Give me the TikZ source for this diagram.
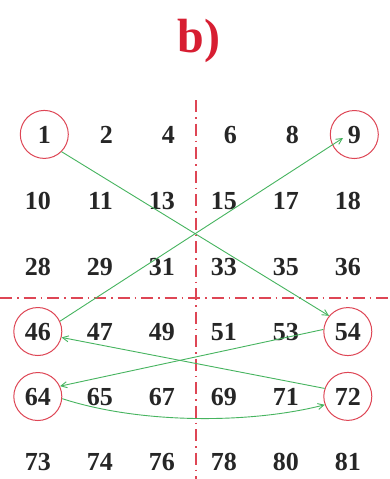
\documentclass[tikz,border=0pt]{standalone}
\usepackage{fontspec}
\setmainfont{Liberation Serif}
\usetikzlibrary{arrows.meta}
\definecolor{tred}{RGB}{215,30,50}
\definecolor{cred}{RGB}{222,70,85}
\definecolor{lgreen}{RGB}{70,180,95}
\begin{document}
\begin{tikzpicture}[x=1pt,y=-1pt,
 num/.style={anchor=base east, inner sep=0pt, font=\fontsize{26}{26}\selectfont\bfseries, text=black!85},
 ring/.style={circle, draw=cred, line width=1pt, minimum size=48pt, inner sep=0pt},
 conn/.style={draw=lgreen, line width=0.9pt, -{Straight Barb[length=6pt,width=6pt]}},
 axis/.style={draw=cred, line width=1.1pt, dash pattern=on 12pt off 5pt on 1.5pt off 5pt}]
\useasboundingbox (0,0) rectangle (389,479);
\fill[white] (0,0) rectangle (389,479);
% axes
\coordinate (vt) at (196,100);
\coordinate (vb) at (196,479);
\coordinate (hl) at (0,298);
\coordinate (hr) at (389,298);
\draw[axis] (vt) -- (vb);
\draw[axis] (hl) -- (hr);
% title
\node[font=\fontsize{48}{48}\selectfont\bfseries, text=tred, anchor=base, inner sep=0pt] (title) at (199,52) {b)};
% numbers
\foreach \v/\x in {1/51,2/113,4/175,6/237,8/299,9/361}
  \node[num] (n\v) at (\x,143) {\v};
\foreach \v/\x in {10/51,11/113,13/175,15/237,17/299,18/361}
  \node[num] (n\v) at (\x,209) {\v};
\foreach \v/\x in {28/51,29/113,31/175,33/237,35/299,36/361}
  \node[num] (n\v) at (\x,275) {\v};
\foreach \v/\x in {46/51,47/113,49/175,51/237,53/299,54/361}
  \node[num] (n\v) at (\x,340) {\v};
\foreach \v/\x in {64/51,65/113,67/175,69/237,71/299,72/361}
  \node[num] (n\v) at (\x,405) {\v};
\foreach \v/\x in {73/51,74/113,76/175,78/237,80/299,81/361}
  \node[num] (n\v) at (\x,470) {\v};
% circles
\foreach \v in {1,9,46,54,64,72}
  \node[ring] (c\v) at (n\v.center) {};
% connectors
\coordinate (t9) at (343,138);
\draw[conn] (c1.-45) -- (c54.140);
\draw[conn] (c46.25) -- (t9);
\draw[conn] (c72.161) -- (c46.-14);
\draw[conn] (c54.175) -- (c64.25);
\draw[conn] (c64.-5) .. controls (140,424) and (250,424) .. (c72.-160);
\end{tikzpicture}
\end{document}
